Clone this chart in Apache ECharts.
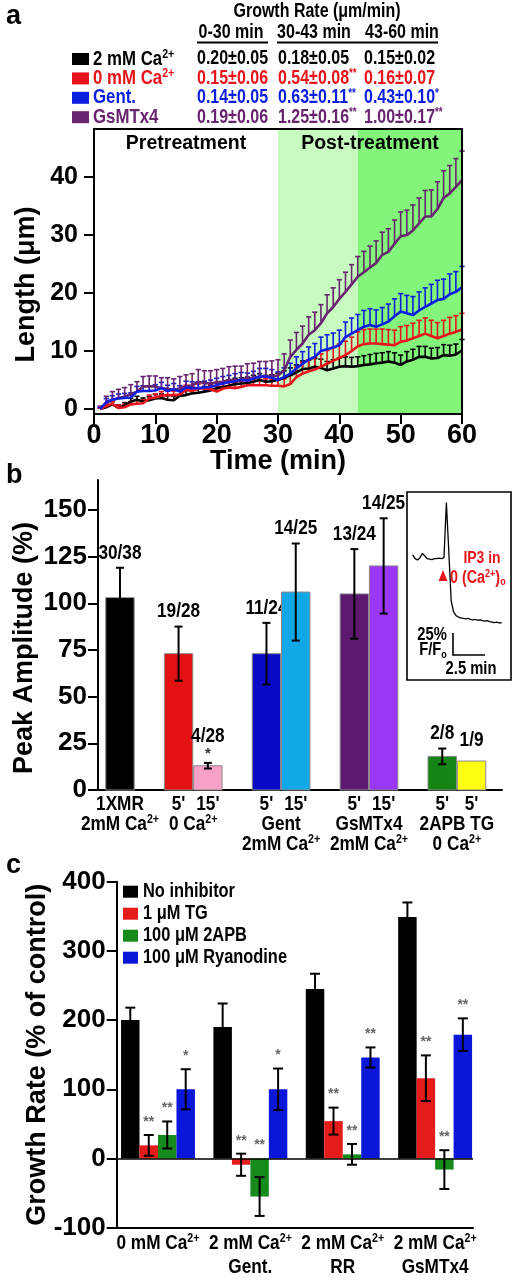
<!DOCTYPE html>
<html><head><meta charset="utf-8">
<script src="https://cdn.jsdelivr.net/npm/echarts@6/dist/echarts.min.js"></script>
<style>html,body{margin:0;padding:0;background:#fff}#c{width:516px;height:1280px}</style>
</head><body><div id="c"></div><script>
const FS = '"Liberation Sans",Arial,Helvetica,sans-serif';
const NARROW = 0.82; // horizontal squeeze used to imitate the condensed face of the figure

// ---------------- panel a data ----------------
const aTimes = Array.from({length: 60}, (_, i) => i + 1);
const aNames = ["2 mM Ca^{2+}", "0 mM Ca^{2+}", "Gent.", "GsMTx4"];
const blackMean = [0,0.3,0.8,0.2,0.6,1.3,1.6,1.3,1.5,1.8, 1.9,1.6,1.5,2.3,2.4,2.7,2.8,3.0,3.2,3.6, 3.8,4.0,4.3,4.4,4.5,4.7,5.0,4.7,4.8,5.0, 5.4,5.8,6.3,6.9,7.0,7.3,7.1,6.7,7.0,7.3, 7.4,7.3,7.4,7.6,7.7,7.9,8.0,8.2,8.0,7.6, 8.2,8.5,9.0,9.0,8.7,8.8,9.3,9.2,9.4,10.1];
const blackErr = [0.2,0.4,0.5,0.5,0.5,0.6,0.6,0.6,0.6,0.7, 0.7,0.7,0.7,0.8,0.8,0.8,0.8,0.9,0.9,0.9, 0.9,1.0,1.0,1.0,1.0,1.1,1.1,1.1,1.1,1.2, 1.2,1.3,1.3,1.4,1.4,1.4,1.5,1.5,1.5,1.5, 1.6,1.6,1.6,1.6,1.7,1.7,1.7,1.7,1.7,1.7, 1.7,1.8,1.8,1.8,1.8,1.8,1.8,1.8,1.8,1.9];
const redMean = [0,0.5,0.9,0.2,0.3,0.8,0.9,1.0,1.8,2.0, 2.3,2.4,2.4,2.5,3.3,3.1,3.5,3.6,3.4,3.0, 3.5,3.7,3.6,3.8,4.1,4.1,4.1,4.1,4.0,4.0, 3.9,4.3,5.5,6.1,6.5,6.8,7.3,7.8,8.3,8.8, 9.3,10.0,10.8,11.2,11.3,11.3,11.2,11.1,11.0,11.6, 11.8,12.2,12.6,13.0,12.6,12.2,12.6,13.0,13.3,13.7];
const redErr = [0.2,0.4,0.4,0.5,0.5,0.5,0.6,0.6,0.6,0.6, 0.7,0.7,0.7,0.7,0.8,0.8,0.8,0.8,0.8,0.9, 0.9,0.9,0.9,1.0,1.0,1.0,1.0,1.1,1.1,1.1, 1.3,1.5,1.7,1.9,2.0,2.1,2.2,2.3,2.3,2.4, 2.4,2.4,2.5,2.5,2.5,2.5,2.6,2.6,2.6,2.6, 2.6,2.6,2.7,2.7,2.7,2.7,2.7,2.8,2.8,2.8];
const blueMean = [0,1.2,1.6,1.8,1.9,2.0,3.0,3.1,3.1,3.2, 3.6,3.1,3.4,3.0,3.7,3.6,3.6,3.7,3.8,4.1, 4.4,4.6,4.8,5.0,4.9,5.2,5.6,5.6,5.4,5.0, 5.5,6.1,7.0,7.8,8.5,9.0,10.0,10.3,10.6,11.0, 12.4,13.0,13.6,14.2,14.5,14.2,14.6,15.1,16.0,16.8, 16.5,16.2,17.0,17.6,18.2,18.8,19.0,19.8,20.2,21.0];
const blueErr = [0.3,0.6,0.7,0.8,0.8,0.8,0.9,0.9,0.9,1.0, 1.0,1.0,1.0,1.0,1.1,1.1,1.1,1.1,1.2,1.2, 1.2,1.2,1.3,1.3,1.3,1.3,1.4,1.4,1.4,1.4, 1.6,1.8,2.0,2.1,2.2,2.3,2.4,2.5,2.5,2.6, 2.6,2.7,2.7,2.8,2.8,2.9,2.9,3.0,3.0,3.1, 3.1,3.2,3.2,3.3,3.3,3.4,3.4,3.5,3.5,3.6];
const purpleMean = [0,1.0,1.6,1.9,2.1,2.6,3.0,3.9,3.9,3.9, 3.6,3.5,3.3,3.6,3.9,4.1,4.7,4.5,4.4,4.6, 4.7,5.0,5.0,5.0,5.3,5.4,5.6,5.6,5.6,5.8, 6.7,9.0,10.2,11.3,12.8,13.6,14.8,16.5,17.6,19.0, 20.2,21.5,22.8,23.6,24.4,25.2,26.6,27.1,28.5,29.8, 30.0,30.8,32.0,33.2,33.2,34.5,36.4,37.2,38.3,39.5];
const purpleErr = [0.5,1.2,1.4,1.5,1.6,1.6,1.7,1.7,1.8,1.8, 1.8,1.9,1.9,2.0,2.0,2.0,2.1,2.1,2.2,2.2, 2.3,2.3,2.4,2.4,2.5,2.5,2.6,2.6,2.7,2.7, 2.8,2.9,3.0,3.0,3.1,3.1,3.2,3.2,3.3,3.3, 3.4,3.4,3.5,3.6,3.7,3.8,3.9,4.0,4.1,4.2, 4.3,4.4,4.4,4.5,4.6,4.7,4.7,4.8,4.9,5.0];
const aTicksY = [0, 10, 20, 30, 40];
const rateTitle = "Growth Rate (μm/min)";
const rateCols = ["0-30 min", "30-43 min", "43-60 min"];
const rateMean = [[0.20,0.18,0.15],[0.15,0.54,0.16],[0.14,0.63,0.43],[0.19,1.25,1.00]];
const rateSem  = [[0.05,0.05,0.02],[0.06,0.08,0.07],[0.05,0.11,0.10],[0.06,0.16,0.17]];
const rateSig  = [["","",""],["","**",""],["","**","*"],["","**","**"]];

// ---------------- panel b data ----------------
const bBarLabels = ["1XMR","5'","15'","5'","15'","5'","15'","5'","5'"];
const bGroupOf = [0,1,1,2,2,3,3,4,4];
const bGroupLabels = [["2mM Ca^{2+}"],["0 Ca^{2+}"],["Gent","2mM Ca^{2+}"],["GsMTx4","2mM Ca^{2+}"],["2APB TG","0 Ca^{2+}"]];
const bValues = [103, 73, 13, 73, 106, 105, 120, 18, 15.5];
const bErrors = [16, 14.5, 1.5, 16.5, 26, 24, 25.5, 4.2, 0];
const bCounts = ["30/38","19/28","4/28","11/24","14/25","13/24","14/25","2/8","1/9"];
const bSig = ["","","*","","","","","",""];
const bTicksY = [0, 25, 50, 75, 100, 125, 150];
const insetTrace = [74,70,68.5,71,75.5,73,70,69.5,69,70, 70,70.5,70,71,131,78,24,12,8,6.5, 5.5,5,4.5,5,4,3.5,4,3,3.5,2.5, 2,2.5,1.5,1,0.5,1,0,0.5];

// ---------------- panel c data ----------------
const cGroupLabels = [["0 mM Ca^{2+}"],["2 mM Ca^{2+}","Gent."],["2 mM Ca^{2+}","RR"],["2 mM Ca^{2+}","GsMTx4"]];
const cNames = ["No inhibitor", "1 μM TG", "100 μM 2APB", "100 μM Ryanodine"];
const cNoInhibitor = [200, 190, 245, 349];
const cTG = [19, -9, 54, 116];
const c2APB = [34, -55, 6, -16];
const cRyanodine = [100, 100, 146, 179];
const cNoInhibitorErr = [18, 34, 22, 21];
const cTGErr = [15, 16, 19.5, 33];
const c2APBErr = [19.5, 28, 15, 28];
const cRyanodineErr = [29, 30, 14.5, 23.5];
const cNoInhibitorSig = ["","","",""];
const cTGSig = ["**","**","**","**"];
const c2APBSig = ["**","**","**","**"];
const cRyanodineSig = ["*","*","**","**"];

// ---------------- styles ----------------
const aColors = ['#000000','#e8141c','#0c1ee0','#68246f'];
const bColors = ['#000000','#e21212','#f7a1c6','#0909c6','#12a7e6','#5b1a6e','#9a36f5','#148414','#ffff12'];
const cColors = ['#000000','#e51c1c','#178a1c','#0a16d8'];

function toRich(str) {
  return str.split(/(\^\{[^}]*\}|_\{[^}]*\})/).filter(Boolean).map(p => {
    if (p.startsWith('^{')) return '{s|' + p.slice(2, -1) + '}';
    if (p.startsWith('_{')) return '{b|' + p.slice(2, -1) + '}';
    return '{n|' + p + '}';
  }).join('');
}
function zrRich(size, color) {
  const ss = Math.round(size * 0.62);
  return {
    n: {fontSize: size, fontFamily: FS, fontWeight: 'bold', fill: color, lineHeight: Math.round(size * 1.1)},
    s: {fontSize: ss, fontFamily: FS, fontWeight: 'bold', fill: color, verticalAlign: 'top', lineHeight: Math.round(size * 0.55)},
    b: {fontSize: ss, fontFamily: FS, fontWeight: 'bold', fill: color, verticalAlign: 'bottom', lineHeight: Math.round(size * 0.5)}
  };
}
// text helper; sx = horizontal scale (NARROW imitates the condensed face)
function txt(x, y, str, size, color, align, sx) {
  return {type: 'text', x: x, y: y, scaleX: sx || 1, silent: true,
    style: {text: toRich(str), rich: zrRich(size, color), align: align || 'center', verticalAlign: 'middle', fill: color}};
}
function seg(x1, y1, x2, y2, c, w) {
  return {type: 'line', silent: true, shape: {x1: x1, y1: y1, x2: x2, y2: y2}, style: {stroke: c, lineWidth: w}};
}

const chart = echarts.init(document.getElementById('c'), null, {renderer: 'canvas', width: 516, height: 1280});

// ---------- panel a series ----------
const aMeans = [blackMean, redMean, blueMean, purpleMean];
const aErrs = [blackErr, redErr, blueErr, purpleErr];
const lineZ = [6, 7, 8, 5];
const series = [];
aMeans.forEach((m, k) => {
  const s = {
    type: 'line', name: aNames[k], xAxisIndex: 0, yAxisIndex: 0, z: lineZ[k],
    data: aTimes.map((t, i) => [t, m[i]]), symbol: 'none', silent: true,
    lineStyle: {color: aColors[k], width: 2.6}, itemStyle: {color: aColors[k]}, color: aColors[k]
  };
  if (k === 0) {
    s.markArea = {
      silent: true,
      label: {position: 'insideTop', distance: 5, fontSize: 19.5, fontWeight: 'bold', color: '#000', fontFamily: FS},
      data: [
        [{xAxis: 30, itemStyle: {color: '#c8fbc0'}}, {xAxis: 43}],
        [{xAxis: 43, itemStyle: {color: '#82f57a'}}, {xAxis: 60}],
        [{xAxis: 0, name: 'Pretreatment', itemStyle: {color: 'rgba(0,0,0,0)'}}, {xAxis: 30}],
        [{xAxis: 30, name: 'Post-treatment', itemStyle: {color: 'rgba(0,0,0,0)'}}, {xAxis: 60}]
      ]
    };
  }
  series.push(s);
  series.push({
    type: 'custom', name: 'err-' + k, xAxisIndex: 0, yAxisIndex: 0, z: 3, silent: true,
    data: aTimes.map((t, i) => [t, m[i], aErrs[k][i]]),
    renderItem: (params, api) => {
      const x = api.value(0), y = api.value(1), e = api.value(2);
      const p0 = api.coord([x, y]), p1 = api.coord([x, y + e]);
      return {type: 'group', children: [
        seg(p0[0], p0[1], p1[0], p1[1], aColors[k], 1.6),
        seg(p1[0] - 2.6, p1[1], p1[0] + 2.6, p1[1], aColors[k], 1.6)
      ]};
    }
  });
});

// ---------- panel b bars ----------
const bSlots = bGroupOf.map((g, i) => i + g);
const bGroupCenters = bGroupLabels.map((_, g) => {
  const s = bSlots.filter((_, i) => bGroupOf[i] === g);
  return s.reduce((a, b) => a + b, 0) / s.length;
});
series.push({
  type: 'custom', name: 'peak', xAxisIndex: 2, yAxisIndex: 2, z: 4, silent: true,
  data: bValues.map((v, i) => [bSlots[i], v]),
  renderItem: (params, api) => {
    const i = params.dataIndex;
    const slot = api.value(0), v = api.value(1), e = bErrors[i];
    const top = api.coord([slot, v]), base = api.coord([slot, 0]);
    const w = api.size([1, 0])[0] * 0.97;
    const ch = [{type: 'rect', shape: {x: top[0] - w / 2, y: top[1], width: w, height: base[1] - top[1]},
      style: {fill: bColors[i], stroke: '#8a8a8a', lineWidth: 1}}];
    let ly = top[1] - 6;
    if (e) {
      const hi = api.coord([slot, v + e])[1], lo = api.coord([slot, v - e])[1];
      ch.push(seg(top[0], hi, top[0], lo, '#000', 2));
      ch.push(seg(top[0] - 4, hi, top[0] + 4, hi, '#000', 2));
      ch.push(seg(top[0] - 4, lo, top[0] + 4, lo, '#000', 2));
      ly = hi;
    }
    if (bSig[i]) { ch.push(txt(top[0], ly - 9, bSig[i], 15, '#333')); ly -= 12; }
    ch.push(txt(top[0], ly - 15, bCounts[i], 21, '#000', 'center', NARROW));
    ch.push(txt(top[0], base[1] + 14, bBarLabels[i], 21, '#000', 'center', NARROW));
    return {type: 'group', children: ch};
  }
});
series.push({
  type: 'custom', name: 'peak-groups', xAxisIndex: 2, yAxisIndex: 2, silent: true,
  data: bGroupCenters.map((c) => [c, 0]),
  renderItem: (params, api) => {
    const g = params.dataIndex;
    const p = api.coord([api.value(0), 0]);
    return {type: 'group', children: bGroupLabels[g].map((s, r) => txt(p[0], p[1] + 34 + r * 20, s, 21, '#000', 'center', NARROW))};
  }
});
series.push({
  type: 'line', name: 'trace', xAxisIndex: 3, yAxisIndex: 3, symbol: 'none', silent: true,
  data: insetTrace.map((v, i) => [i, v]), lineStyle: {color: '#000', width: 1.3}
});

// ---------- panel c bars ----------
const cVals = [cNoInhibitor, cTG, c2APB, cRyanodine];
const cErrs = [cNoInhibitorErr, cTGErr, c2APBErr, cRyanodineErr];
const cSigs = [cNoInhibitorSig, cTGSig, c2APBSig, cRyanodineSig];
cVals.forEach((vals, s) => {
  const ser = {
    type: 'custom', name: cNames[s], xAxisIndex: 4, yAxisIndex: 4, z: 4, silent: true,
    itemStyle: {color: cColors[s]},
    data: vals.map((v, g) => [g, v, cErrs[s][g]]),
    renderItem: (params, api) => {
      const g = api.value(0), v = api.value(1), e = api.value(2);
      const bw = api.size([1, 0])[0] * 0.2;
      const base = api.coord([g, 0]);
      const cx = base[0] + (s - 1.5) * bw;
      const ty = api.coord([g, v])[1];
      const hi = api.coord([g, v + e])[1], lo = api.coord([g, v - e])[1];
      const ch = [
        {type: 'rect', shape: {x: cx - bw / 2, y: Math.min(ty, base[1]), width: bw, height: Math.abs(base[1] - ty)}, style: {fill: cColors[s]}},
        seg(cx, hi, cx, lo, '#000', 2),
        seg(cx - 5, hi, cx + 5, hi, '#000', 2),
        seg(cx - 5, lo, cx + 5, lo, '#000', 2)
      ];
      const sig = cSigs[s][params.dataIndex];
      if (sig) ch.push(txt(cx, Math.min(hi, base[1]) - 13, sig, 14, '#666'));
      return {type: 'group', children: ch};
    }
  };
  if (s === 0) {
    ser.markLine = {silent: true, symbol: 'none', label: {show: false}, data: [{yAxis: 0}],
      lineStyle: {color: '#000', width: 1.6, type: 'solid'}};
  }
  series.push(ser);
});
series.push({
  type: 'custom', name: 'c-groups', xAxisIndex: 4, yAxisIndex: 4, silent: true,
  data: cGroupLabels.map((_, g) => [g, -100]),
  renderItem: (params, api) => {
    const g = params.dataIndex;
    const p = api.coord([api.value(0), -100]);
    return {type: 'group', children: cGroupLabels[g].map((s, r) => txt(p[0], p[1] + 16 + r * 24, s, 21, '#000', 'center', NARROW))};
  }
});

// ---------- axes ----------
const axLine = {show: true, onZero: false, lineStyle: {color: '#000', width: 2}};
const lblA = {color: '#000', fontWeight: 'bold', fontFamily: FS};
const nameStyle = {color: '#000', fontWeight: 'bold', fontFamily: FS, fontSize: 27};
const xAxis = [
  {gridIndex: 0, type: 'value', min: 0, max: 60, interval: 10, z: 10, axisLine: axLine,
   axisTick: {show: true, length: 10, lineStyle: {color: '#000', width: 2}},
   axisLabel: Object.assign({fontSize: 27, margin: 8}, lblA), splitLine: {show: false},
   name: 'Time (min)', nameLocation: 'middle', nameGap: 34, nameMoveOverlap: false, nameTextStyle: nameStyle},
  {gridIndex: 0, type: 'value', min: 0, max: 60, position: 'top', z: 10, axisLine: axLine,
   axisTick: {show: false}, axisLabel: {show: false}, splitLine: {show: false}},
  {gridIndex: 1, type: 'value', min: -0.75, max: 13.04, axisLine: axLine, axisTick: {show: false},
   axisLabel: {show: false}, splitLine: {show: false}},
  {gridIndex: 2, type: 'value', min: 0, max: 37, show: false},
  {gridIndex: 3, type: 'value', min: -0.447, max: 3.41, axisLine: axLine, axisTick: {show: false},
   axisLabel: {show: false}, splitLine: {show: false}}
];
const yAxis = [
  {gridIndex: 0, type: 'value', min: -0.86, max: 48.3, z: 10, axisLine: axLine,
   axisTick: {show: true, length: 10, customValues: aTicksY, lineStyle: {color: '#000', width: 2}},
   axisLabel: Object.assign({fontSize: 25, margin: 16, customValues: aTicksY}, lblA), splitLine: {show: false},
   name: 'Length (μm)', nameLocation: 'middle', nameRotate: 90, nameGap: 54, nameMoveOverlap: false,
   nameTextStyle: Object.assign({padding: [0, 26, 0, 0]}, nameStyle)},
  {gridIndex: 0, type: 'value', min: -0.86, max: 48.3, position: 'right', z: 10, axisLine: axLine,
   axisTick: {show: false}, axisLabel: {show: false}, splitLine: {show: false}},
  {gridIndex: 1, type: 'value', min: 0, max: 166, axisLine: axLine,
   axisTick: {show: true, length: 10, customValues: bTicksY, lineStyle: {color: '#000', width: 2}},
   axisLabel: Object.assign({fontSize: 26, margin: 11, customValues: bTicksY}, lblA), splitLine: {show: false},
   name: 'Peak Amplitude (%)', nameLocation: 'middle', nameRotate: 90, nameGap: 60, nameMoveOverlap: false,
   nameTextStyle: Object.assign({padding: [0, 26, 0, 0]}, nameStyle)},
  {gridIndex: 2, type: 'value', min: -20, max: 140, show: false},
  {gridIndex: 3, type: 'value', min: -100, max: 400, interval: 100, axisLine: axLine,
   axisTick: {show: true, length: 10, lineStyle: {color: '#000', width: 2}},
   axisLabel: Object.assign({fontSize: 26, margin: 11}, lblA), splitLine: {show: false},
   name: 'Growth Rate (% of control)', nameLocation: 'middle', nameRotate: 90, nameGap: 66, nameMoveOverlap: false,
   nameTextStyle: nameStyle}
];

// ---------- graphic (letters, table + key, inset decorations, key of c) ----------
const graphic = [];
graphic.push(txt(6, 17, 'a', 27, '#000', 'left'));
graphic.push(txt(6, 476, 'b', 27, '#000', 'left'));
graphic.push(txt(6, 866, 'c', 27, '#000', 'left'));
graphic.push(txt(317, 12, rateTitle, 19.5, '#000', 'center', NARROW));
const colCx = [231, 314, 402];
rateCols.forEach((c, j) => graphic.push(txt(colCx[j], 33, c, 19.5, '#000', 'center', NARROW)));
graphic.push(seg(197, 42.5, 268, 42.5, '#000', 2));
graphic.push(seg(277, 42.5, 438, 42.5, '#000', 2));
const colX = [197, 278, 364];
aNames.forEach((n, r) => {
  const y = 59 + r * 19.4;
  graphic.push({type: 'rect', silent: true, shape: {x: 72, y: y - 6, width: 17, height: 12}, style: {fill: aColors[r]}});
  graphic.push(txt(93, y, n, 20.5, aColors[r], 'left', NARROW));
});
rateMean.forEach((row, r) => {
  row.forEach((m, j) => {
    let s = m.toFixed(2) + '±' + rateSem[r][j].toFixed(2);
    if (rateSig[r][j]) s += '^{' + rateSig[r][j] + '}';
    graphic.push(txt(colX[j], 59 + r * 19.4, s, 19.5, aColors[r], 'left', NARROW));
  });
});
// inset box and annotations
graphic.push({type: 'rect', silent: true, shape: {x: 407, y: 492, width: 104, height: 188}, style: {fill: 'none', stroke: '#000', lineWidth: 1.6}});
graphic.push(txt(482, 558, 'IP3 in', 17, '#e8141c', 'center', NARROW));
graphic.push(txt(450, 578, '0 (Ca^{2+})_{o}', 17.5, '#e8141c', 'left', NARROW));
graphic.push(txt(443, 576, '▲', 19, '#e8141c', 'center', 0.8));
graphic.push(txt(432, 635, '25%', 18, '#000', 'center', NARROW));
graphic.push(txt(433, 650, 'F/F_{o}', 18, '#000', 'center', NARROW));
graphic.push({type: 'polyline', silent: true, shape: {points: [[453, 633], [453, 655], [485, 655]]}, style: {fill: 'none', stroke: '#000', lineWidth: 1.6}});
graphic.push(txt(471, 669, '2.5 min', 18, '#000', 'center', NARROW));
// key of panel c
cNames.forEach((n, s) => {
  const y = 891.7 + s * 22;
  graphic.push({type: 'rect', silent: true, shape: {x: 123, y: y - 6, width: 15, height: 12}, style: {fill: cColors[s]}});
  graphic.push(txt(143, y, n, 20, '#000', 'left', NARROW));
});

const option = {
  backgroundColor: '#fff',
  animation: false,
  grid: [
    {left: 94, top: 129, width: 368, height: 285, containLabel: false, outerBoundsMode: 'none'},
    {left: 98, top: 480, width: 404, height: 310, containLabel: false, outerBoundsMode: 'none'},
    {left: 412.7, top: 494.2, width: 89, height: 147.2, containLabel: false, outerBoundsMode: 'none'},
    {left: 116.7, top: 881.7, width: 356.3, height: 346, containLabel: false, outerBoundsMode: 'none'}
  ],
  xAxis: xAxis,
  yAxis: yAxis,
  series: series,
  graphic: graphic
};
chart.setOption(option);
</script></body></html>
